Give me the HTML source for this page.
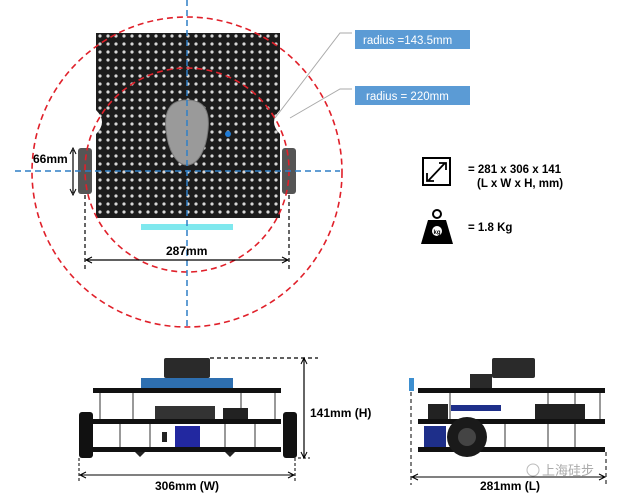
<!DOCTYPE html>
<html><head><meta charset="utf-8"><style>
html,body{margin:0;padding:0;background:#fff;width:640px;height:500px;overflow:hidden}
svg{display:block}
text{font-family:"Liberation Sans",sans-serif}
</style></head><body>
<svg width="640" height="500" viewBox="0 0 640 500" xmlns="http://www.w3.org/2000/svg">
<defs>
<pattern id="holes" width="8" height="8" patternUnits="userSpaceOnUse">
<rect width="8" height="8" fill="#1c1c1c"/><circle cx="4" cy="4" r="1.6" fill="#d8d8d8"/>
</pattern>
</defs>
<!-- top view board -->
<path d="M96,33 H280 V110 Q268,122 280,134 V218 H96 V134 Q108,122 96,110 Z" fill="url(#holes)"/>
<rect x="78" y="148" width="14" height="46" rx="3" fill="#555"/>
<rect x="282" y="148" width="14" height="46" rx="3" fill="#555"/>
<rect x="141" y="224" width="92" height="6" fill="#7fe8ee"/>
<path d="M187,100 C205,100 210,112 208,130 C206,150 198,165 187,165 C176,165 168,150 166,130 C164,112 169,100 187,100 Z" fill="#9a9a9a" stroke="#777"/>
<circle cx="228" cy="134" r="3" fill="#1f7bd6"/>
<!-- circles -->
<circle cx="187" cy="172" r="155" fill="none" stroke="#e0202a" stroke-width="1.6" stroke-dasharray="6,4"/>
<circle cx="187" cy="170" r="102" fill="none" stroke="#e0202a" stroke-width="1.6" stroke-dasharray="6,4"/>
<!-- axes -->
<line x1="187" y1="0" x2="187" y2="330" stroke="#2f7fc6" stroke-width="1.5" stroke-dasharray="6,4"/>
<line x1="15" y1="171" x2="340" y2="171" stroke="#2f7fc6" stroke-width="1.5" stroke-dasharray="6,4"/>
<!-- 66mm -->
<line x1="73" y1="150" x2="73" y2="193" stroke="#000" stroke-width="1.2"/>
<path d="M70,154 L73,148 L76,154 M70,189 L73,195 L76,189" fill="none" stroke="#000"/>
<text x="33" y="163" font-size="12" font-weight="bold">66mm</text>
<!-- 287mm -->
<line x1="85" y1="195" x2="85" y2="272" stroke="#000" stroke-dasharray="4,3" stroke-width="1.2"/>
<line x1="289" y1="195" x2="289" y2="272" stroke="#000" stroke-dasharray="4,3" stroke-width="1.2"/>
<line x1="86" y1="260" x2="288" y2="260" stroke="#000" stroke-width="1.2"/>
<path d="M92,257 L86,260 L92,263 M282,257 L288,260 L282,263" fill="none" stroke="#000"/>
<text x="166" y="255" font-size="12" font-weight="bold">287mm</text>
<!-- leaders -->
<polyline points="352,33 340,33 275,118" fill="none" stroke="#aaa"/>
<polyline points="352,89 340,89 290,118" fill="none" stroke="#aaa"/>
<rect x="355" y="30" width="115" height="19" fill="#5b9bd5"/>
<text x="363" y="44" font-size="11.5" fill="#fff">radius =143.5mm</text>
<rect x="355" y="86" width="115" height="19" fill="#5b9bd5"/>
<text x="366" y="100" font-size="11.5" fill="#fff">radius = 220mm</text>
<!-- icons -->
<rect x="423" y="158" width="27" height="27" fill="none" stroke="#000" stroke-width="2"/>
<path d="M428,181 L445,163 M439,163 H446 V170 M427,173 V181 H434" fill="none" stroke="#000" stroke-width="1.8"/>
<text x="468" y="173" font-size="11.5" font-weight="bold">= 281 x 306 x 141</text>
<text x="477" y="187" font-size="11.5" font-weight="bold">(L x W x H, mm)</text>
<circle cx="437" cy="214" r="4" fill="none" stroke="#000" stroke-width="2"/>
<path d="M428,220 H446 L453,244 H421 Z" fill="#000"/>
<circle cx="437" cy="231" r="5" fill="#fff"/>
<text x="437" y="234" font-size="6" text-anchor="middle" font-weight="bold">kg</text>
<text x="468" y="231" font-size="11.5" font-weight="bold">= 1.8 Kg</text>

<!-- side view W -->
<rect x="164" y="358" width="46" height="20" rx="2" fill="#2a2a2a"/>
<rect x="141" y="378" width="92" height="14" fill="#2e6fb0"/>
<rect x="93" y="388" width="188" height="5" fill="#111"/>
<line x1="100" y1="393" x2="100" y2="419" stroke="#999" stroke-width="2"/>
<line x1="133" y1="393" x2="133" y2="419" stroke="#999" stroke-width="2"/>
<line x1="241" y1="393" x2="241" y2="419" stroke="#999" stroke-width="2"/>
<line x1="275" y1="393" x2="275" y2="419" stroke="#999" stroke-width="2"/>
<rect x="155" y="406" width="60" height="13" fill="#333"/>
<rect x="223" y="408" width="25" height="11" fill="#222"/>
<rect x="93" y="419" width="188" height="5" fill="#111"/>
<line x1="120" y1="424" x2="120" y2="447" stroke="#999" stroke-width="2"/>
<line x1="150" y1="424" x2="150" y2="447" stroke="#999" stroke-width="2"/>
<line x1="225" y1="424" x2="225" y2="447" stroke="#999" stroke-width="2"/>
<line x1="255" y1="424" x2="255" y2="447" stroke="#999" stroke-width="2"/>
<rect x="175" y="426" width="25" height="21" fill="#2228a0"/>
<rect x="162" y="432" width="5" height="10" fill="#222"/>
<rect x="93" y="447" width="188" height="5" fill="#111"/>
<path d="M135,452 L145,452 L140,457 Z M225,452 L235,452 L230,457 Z" fill="#222"/>
<rect x="79" y="412" width="14" height="46" rx="3" fill="#111"/>
<rect x="283" y="412" width="14" height="46" rx="3" fill="#111"/>
<line x1="210" y1="358" x2="318" y2="358" stroke="#000" stroke-dasharray="4,3" stroke-width="1.2"/>
<line x1="304" y1="359" x2="304" y2="458" stroke="#000" stroke-width="1.2"/>
<path d="M301,364 L304,358 L307,364 M301,452 L304,458 L307,452" fill="none" stroke="#000"/>
<line x1="298" y1="458" x2="310" y2="458" stroke="#000" stroke-dasharray="3,2"/>
<text x="310" y="417" font-size="12" font-weight="bold">141mm (H)</text>
<line x1="79" y1="458" x2="79" y2="483" stroke="#000" stroke-dasharray="3,2"/>
<line x1="295" y1="458" x2="295" y2="483" stroke="#000" stroke-dasharray="3,2"/>
<line x1="80" y1="475" x2="294" y2="475" stroke="#000"/>
<path d="M86,472 L80,475 L86,478 M288,472 L294,475 L288,478" fill="none" stroke="#000"/>
<text x="155" y="490" font-size="12" font-weight="bold">306mm (W)</text>

<!-- side view L -->
<rect x="492" y="358" width="43" height="20" rx="2" fill="#2a2a2a"/>
<rect x="470" y="374" width="22" height="14" fill="#2a2a2a"/>
<rect x="409" y="378" width="5" height="13" fill="#3d8fd0"/>
<rect x="418" y="388" width="187" height="5" fill="#111"/>
<line x1="450" y1="393" x2="450" y2="419" stroke="#999" stroke-width="2"/>
<line x1="548" y1="393" x2="548" y2="419" stroke="#999" stroke-width="2"/>
<line x1="575" y1="393" x2="575" y2="419" stroke="#999" stroke-width="2"/>
<line x1="600" y1="393" x2="600" y2="419" stroke="#999" stroke-width="2"/>
<rect x="428" y="404" width="20" height="15" fill="#222"/>
<rect x="451" y="405" width="50" height="6" fill="#1e2f8a"/>
<rect x="535" y="404" width="50" height="15" fill="#222"/>
<rect x="418" y="419" width="187" height="5" fill="#111"/>
<rect x="424" y="426" width="22" height="21" fill="#1e2f8a"/>
<line x1="505" y1="424" x2="505" y2="447" stroke="#999" stroke-width="2"/>
<line x1="548" y1="424" x2="548" y2="447" stroke="#999" stroke-width="2"/>
<line x1="575" y1="424" x2="575" y2="447" stroke="#999" stroke-width="2"/>
<rect x="418" y="447" width="187" height="5" fill="#111"/>
<circle cx="467" cy="437" r="20" fill="#1a1a1a"/>
<circle cx="467" cy="437" r="9" fill="#444"/>
<line x1="411" y1="392" x2="411" y2="485" stroke="#000" stroke-dasharray="4,3"/>
<line x1="606" y1="452" x2="606" y2="485" stroke="#000" stroke-dasharray="4,3"/>
<line x1="412" y1="477" x2="605" y2="477" stroke="#000"/>
<path d="M418,474 L412,477 L418,480 M599,474 L605,477 L599,480" fill="none" stroke="#000"/>
<text x="480" y="490" font-size="12" font-weight="bold">281mm (L)</text>
<text x="542" y="475" font-size="13" fill="#aaa" font-family="'Liberation Sans','Noto Sans CJK SC',sans-serif">上海硅步</text>
<circle cx="533" cy="470" r="6" fill="none" stroke="#bbb"/>
</svg>
</body></html>
